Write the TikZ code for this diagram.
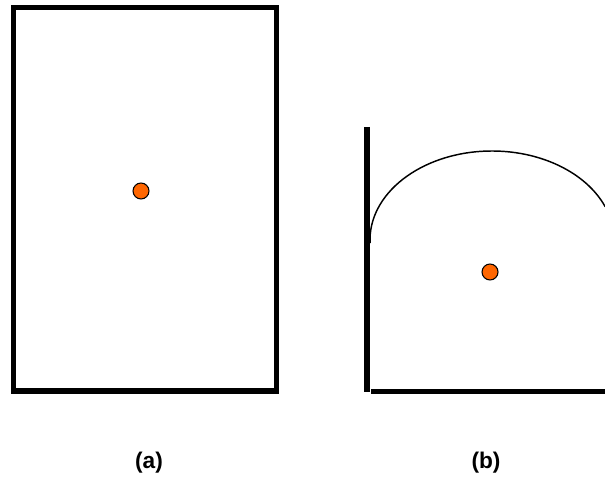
\documentclass[tikz,border=0pt]{standalone}
\usepackage{fontspec}
\setmainfont{Liberation Sans}
\usepackage{tikz}
\usetikzlibrary{positioning,calc}
\definecolor{dotOrange}{RGB}{255,102,0}

\begin{document}
\begin{tikzpicture}[
  x=0.75pt, y=0.75pt,
  wall/.style={line width=4.2pt, line cap=butt},
  dome/.style={line width=1.1pt},
  dot/.style={circle, draw=black, line width=0.8pt, fill=dotOrange, minimum size=12pt, inner sep=0pt},
  caption/.style={font=\fontsize{17}{20}\selectfont\bfseries},
]
\useasboundingbox (0,0) rectangle (605,481);
% (a) closed box
\draw[wall] (13.5,90) rectangle (276.5,473.5);
\node[dot] (srcA) at (141,290) {};
% (b) open corner with dome
\draw[dome] (492,241) ++(182:122 and 89) arc[start angle=182, end angle=22, x radius=122, y radius=89];
\coordinate (wallTop) at (367,354);
\coordinate (wallFoot) at (367,89);
\coordinate (floorL) at (371,89.5);
\coordinate (floorR) at (610,89.5);
\draw[wall] (wallTop) -- (wallFoot);
\draw[wall] (floorL) -- (floorR);
\node[dot] (srcB) at (490,209) {};
% captions
\node[caption] (capA) at (149,18) {(a)};
\node[caption] (capB) at (486,18) {(b)};
\end{tikzpicture}
\end{document}
